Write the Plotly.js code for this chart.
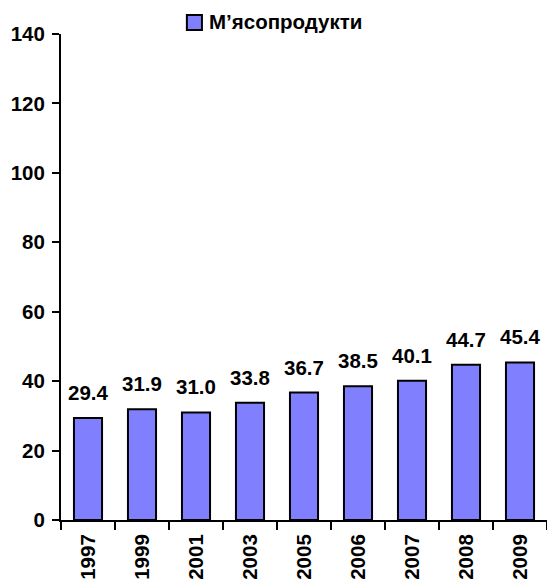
<!DOCTYPE html>
<html>
<head>
<meta charset="utf-8">
<script src="https://cdn.plot.ly/plotly-3.0.1.min.js"></script>
<style>html,body{margin:0;padding:0;background:#fff;}</style>
</head>
<body>
<div id="chart" style="width:547px;height:584px;"></div>
<script>
const years = ["1997","1999","2001","2003","2005","2006","2007","2008","2009"];
const values = [29.4, 31.9, 31.0, 33.8, 36.7, 38.5, 40.1, 44.7, 45.4];
const seriesName = "М’ясопродукти";
const yTicks = [0, 20, 40, 60, 80, 100, 120, 140];

const fontFam = "Liberation Sans, Arial, sans-serif";
const TICKFS = 20.5;
const LBLFS = 20.5;
const barColor = "#8080FF";

const trace = {
  type: "bar",
  x: years,
  y: values,
  name: seriesName,
  showlegend: false,
  width: 0.52,
  marker: {color: barColor, line: {color: "#000000", width: 2}},
  hoverinfo: "none"
};

const labelAnnotations = years.map((yr, i) => ({
  x: i, y: values[i], xref: "x", yref: "y",
  text: values[i].toFixed(1),
  showarrow: false, yanchor: "bottom", xanchor: "center", yshift: 12,
  font: {family: fontFam, size: LBLFS, weight: "bold", color: "#000"}
}));

const legendAnnotation = {
  xref: "paper", yref: "paper", x: 0.3, y: 1.0247, xanchor: "left", yanchor: "middle",
  text: seriesName, showarrow: false,
  font: {family: fontFam, size: LBLFS, weight: "bold", color: "#000"}
};

const layout = {
  width: 547, height: 584,
  margin: {l: 61, r: 0, t: 34, b: 64, autoexpand: false},
  paper_bgcolor: "#fff", plot_bgcolor: "#fff",
  showlegend: false,
  xaxis: {
    type: "category",
    categoryorder: "array", categoryarray: years,
    range: [-0.5, years.length - 0.5],
    showline: true, linecolor: "#000", linewidth: 2,
    ticks: "outside", tickson: "boundaries", ticklen: 8, tickwidth: 2, tickcolor: "#000",
    tickangle: -90, ticklabelstandoff: 4,
    tickfont: {family: fontFam, size: TICKFS, weight: "bold", color: "#000"},
    showgrid: false, zeroline: false
  },
  yaxis: {
    range: [0, 140],
    tickvals: yTicks,
    showline: true, linecolor: "#000", linewidth: 2,
    ticks: "outside", ticklen: 7, tickwidth: 2, tickcolor: "#000",
    ticklabelstandoff: 3,
    tickfont: {family: fontFam, size: TICKFS, weight: "bold", color: "#000"},
    showgrid: false, zeroline: false
  },
  shapes: [{
    type: "rect", xref: "paper", yref: "paper",
    x0: 0.259, x1: 0.290, y0: 1.008, y1: 1.039,
    fillcolor: barColor, line: {color: "#000", width: 2}
  }],
  annotations: labelAnnotations.concat([legendAnnotation]),
  bargap: 0.48
};
Plotly.newPlot("chart", [trace], layout, {staticPlot: true});
</script>
</body>
</html>
